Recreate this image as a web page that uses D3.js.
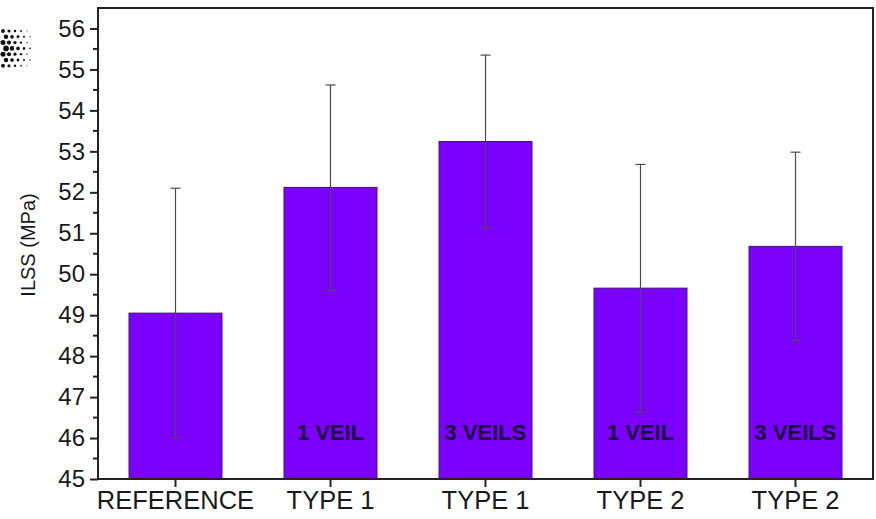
<!DOCTYPE html>
<html>
<head>
<meta charset="utf-8">
<script src="https://cdn.jsdelivr.net/npm/d3@7"></script>
<style>
  html, body { margin: 0; padding: 0; background: #fff; }
  svg { display: block; font-family: "Liberation Sans", Arial, sans-serif; }
</style>
</head>
<body>
<svg id="chart" width="876" height="519"></svg>
<script>
// Interlaminar shear strength per laminate configuration
const categories = ["REFERENCE", "TYPE 1", "TYPE 1", "TYPE 2", "TYPE 2"];
const variants   = ["", "1 VEIL", "3 VEILS", "1 VEIL", "3 VEILS"];
const ilss       = [49.05, 52.12, 53.24, 49.66, 50.68];
const ilssErr    = [3.05, 2.50, 2.11, 3.02, 2.30];
const yTicks     = [45, 46, 47, 48, 49, 50, 51, 52, 53, 54, 55, 56];

const rows = categories.map((c, i) => ({ i, cat: c, variant: variants[i], v: ilss[i], e: ilssErr[i] }));

const svg = d3.select("#chart");
const margin = { left: 98, right: 3, top: 8, bottom: 40 };
const W = 876, H = 519;

const x = d3.scaleBand()
  .domain(rows.map(d => d.i))
  .range([margin.left, W - margin.right])
  .paddingInner(0.4)
  .paddingOuter(0.2);

const y = d3.scaleLinear()
  .domain([45, 56.5])
  .range([H - margin.bottom, margin.top]);

// halftone mark at the top-left corner
const dots = svg.append("g").attr("fill", "#111");
for (let c = 0; c < 5; c++) {
  for (let r = 0; r < 7; r++) {
    const off = (r % 2) ? 3 : 0;
    const rad = Math.max(0.6, 2.8 - c * 0.5);
    dots.append("circle")
      .attr("cx", 3 + c * 6 + off)
      .attr("cy", 31 + r * 5.8)
      .attr("r", rad * (1 - Math.abs(r - 3) * 0.1));
  }
}

// bars
svg.append("g").selectAll("rect")
  .data(rows)
  .join("rect")
  .attr("x", d => x(d.i))
  .attr("y", d => y(d.v))
  .attr("width", x.bandwidth())
  .attr("height", d => y(45) - y(d.v))
  .attr("fill", "#7c00ff")
  .attr("stroke", "#3a1670")
  .attr("stroke-width", 1);

// error bars
const eb = svg.append("g").attr("stroke", "#4a4a52").attr("stroke-width", 1.2).attr("fill", "none");
rows.forEach(d => {
  const cx = x(d.i) + x.bandwidth() / 2;
  const top = y(d.v + d.e), bot = y(d.v - d.e);
  eb.append("line").attr("x1", cx).attr("x2", cx).attr("y1", top).attr("y2", bot);
  eb.append("line").attr("x1", cx - 5).attr("x2", cx + 5).attr("y1", top).attr("y2", top);
  eb.append("line").attr("x1", cx - 5).attr("x2", cx + 5).attr("y1", bot).attr("y2", bot);
});

// in-bar variant labels
svg.append("g").selectAll("text")
  .data(rows.filter(d => d.variant))
  .join("text")
  .attr("x", d => x(d.i) + x.bandwidth() / 2)
  .attr("y", y(46.15))
  .attr("dy", "0.35em")
  .attr("text-anchor", "middle")
  .attr("font-weight", "bold")
  .attr("font-size", 22)
  .attr("fill", "#180a36")
  .text(d => d.variant);

// frame
svg.append("rect")
  .attr("x", margin.left).attr("y", margin.top)
  .attr("width", W - margin.right - margin.left)
  .attr("height", y(45) - margin.top)
  .attr("fill", "none").attr("stroke", "#222").attr("stroke-width", 2);

// y axis with minor ticks
const yAxis = svg.append("g")
  .attr("transform", `translate(${margin.left},0)`)
  .call(d3.axisLeft(y).tickValues(yTicks).tickSize(8).tickPadding(5).tickFormat(d3.format("d")));
yAxis.select(".domain").remove();
yAxis.selectAll(".tick line").attr("stroke", "#222").attr("stroke-width", 2);
yAxis.selectAll(".tick text").attr("font-size", 24).attr("fill", "#1a1a1a")
  .attr("font-family", "'Liberation Sans', Arial, sans-serif");

const minor = d3.range(45.5, 56.5, 1);
svg.append("g").selectAll("line")
  .data(minor)
  .join("line")
  .attr("x1", margin.left - 5).attr("x2", margin.left)
  .attr("y1", d => y(d)).attr("y2", d => y(d))
  .attr("stroke", "#222").attr("stroke-width", 2);

// x axis
const xAxis = svg.append("g")
  .attr("transform", `translate(0,${y(45)})`)
  .call(d3.axisBottom(x).tickSize(8).tickPadding(4).tickFormat(i => categories[i]));
xAxis.select(".domain").remove();
xAxis.selectAll(".tick line").attr("stroke", "#222").attr("stroke-width", 2);
xAxis.selectAll(".tick text").attr("font-size", 25.5).attr("fill", "#1a1a1a")
  .attr("font-family", "'Liberation Sans', Arial, sans-serif");

// y axis title
svg.append("text")
  .attr("transform", `translate(35,245) rotate(-90)`)
  .attr("text-anchor", "middle")
  .attr("font-size", 20)
  .attr("fill", "#1a1a1a")
  .text("ILSS (MPa)");
</script>
</body>
</html>
